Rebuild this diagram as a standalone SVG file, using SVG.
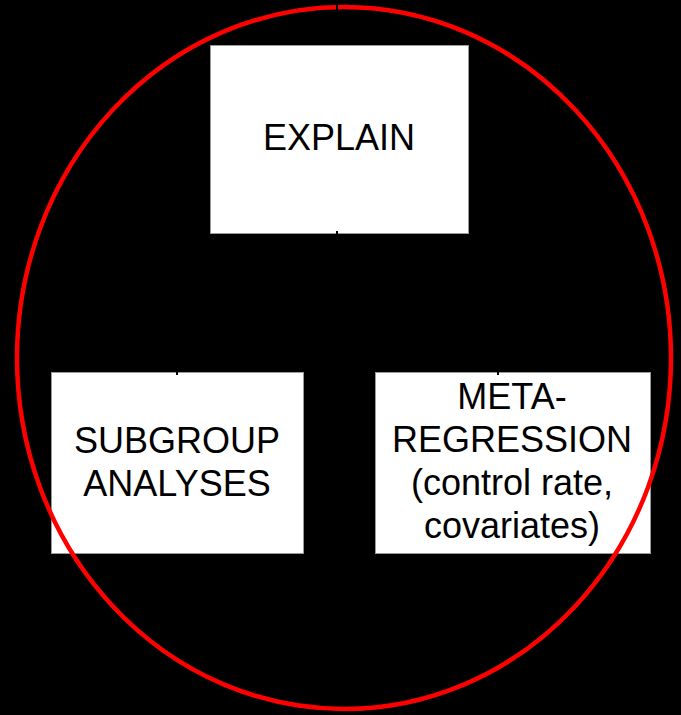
<svg xmlns="http://www.w3.org/2000/svg" width="681" height="715" viewBox="0 0 681 715">
<style>
.box{fill:#ffffff;stroke:#999999;stroke-width:1}
.t{font-family:"Liberation Sans",Arial,sans-serif;font-size:36px;fill:#000000;text-anchor:middle}
.c{fill:none;stroke:#000000;stroke-width:2}
</style>
<rect width="681" height="715" fill="#000000"/>
<g id="explain"><rect class="box" x="210.5" y="45.5" width="258" height="188"/><text class="t" x="339" y="150">EXPLAIN</text></g>
<g id="subgroup"><rect class="box" x="51.5" y="372.5" width="252" height="181"/><text class="t" x="177" y="453">SUBGROUP</text><text class="t" x="177" y="496">ANALYSES</text></g>
<g id="meta"><rect class="box" x="375.5" y="372.5" width="275" height="181"/><text class="t" x="512" y="409">META-</text><text class="t" x="512" y="452">REGRESSION</text><text class="t" x="512" y="495">(control rate,</text><text class="t" x="512" y="538">covariates)</text></g>
<ellipse id="boundary" cx="344" cy="358" rx="327" ry="351" fill="none" stroke="#ff0000" stroke-width="4.5"/>
<g id="connectors">
<path class="c" d="M337 0 V45"/>
<path class="c" d="M337 231 V300 H177 V375"/>
<path class="c" d="M337 300 H498 V375"/>
</g>
</svg>
